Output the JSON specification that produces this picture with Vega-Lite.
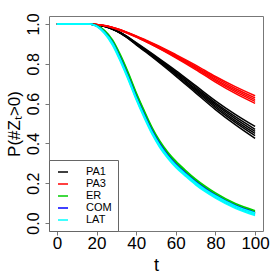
{
"$schema": "https://vega.github.io/schema/vega-lite/v6.json",
"width": 214, "height": 215,
"autosize": {"type": "none"},
"padding": {"left": 49, "top": 16, "right": 17, "bottom": 49},
"background": "white",
"config": {"view": {"stroke": "#777", "strokeWidth": 1}, "font": "Liberation Sans"},
"data": {"values": [
{"g":"PA1","r":"b1","t":0,"p":1},{"g":"PA1","r":"b1","t":16,"p":1},{"g":"PA1","r":"b1","t":20,"p":0.996},{"g":"PA1","r":"b1","t":25,"p":0.985},{"g":"PA1","r":"b1","t":30,"p":0.964},{"g":"PA1","r":"b1","t":35,"p":0.934},{"g":"PA1","r":"b1","t":40,"p":0.895},{"g":"PA1","r":"b1","t":45,"p":0.858},{"g":"PA1","r":"b1","t":50,"p":0.819},{"g":"PA1","r":"b1","t":60,"p":0.738},{"g":"PA1","r":"b1","t":70,"p":0.654},{"g":"PA1","r":"b1","t":80,"p":0.57},{"g":"PA1","r":"b1","t":90,"p":0.494},{"g":"PA1","r":"b1","t":100,"p":0.425},
{"g":"PA1","r":"b2","t":0,"p":1},{"g":"PA1","r":"b2","t":16,"p":1},{"g":"PA1","r":"b2","t":20,"p":0.996},{"g":"PA1","r":"b2","t":25,"p":0.986},{"g":"PA1","r":"b2","t":30,"p":0.965},{"g":"PA1","r":"b2","t":35,"p":0.935},{"g":"PA1","r":"b2","t":40,"p":0.897},{"g":"PA1","r":"b2","t":45,"p":0.861},{"g":"PA1","r":"b2","t":50,"p":0.823},{"g":"PA1","r":"b2","t":60,"p":0.745},{"g":"PA1","r":"b2","t":70,"p":0.662},{"g":"PA1","r":"b2","t":80,"p":0.58},{"g":"PA1","r":"b2","t":90,"p":0.506},{"g":"PA1","r":"b2","t":100,"p":0.439},
{"g":"PA1","r":"b3","t":0,"p":1},{"g":"PA1","r":"b3","t":16,"p":1},{"g":"PA1","r":"b3","t":20,"p":0.996},{"g":"PA1","r":"b3","t":25,"p":0.986},{"g":"PA1","r":"b3","t":30,"p":0.966},{"g":"PA1","r":"b3","t":35,"p":0.936},{"g":"PA1","r":"b3","t":40,"p":0.899},{"g":"PA1","r":"b3","t":45,"p":0.864},{"g":"PA1","r":"b3","t":50,"p":0.826},{"g":"PA1","r":"b3","t":60,"p":0.754},{"g":"PA1","r":"b3","t":70,"p":0.669},{"g":"PA1","r":"b3","t":80,"p":0.588},{"g":"PA1","r":"b3","t":90,"p":0.515},{"g":"PA1","r":"b3","t":100,"p":0.45},
{"g":"PA1","r":"b4","t":0,"p":1},{"g":"PA1","r":"b4","t":16,"p":1},{"g":"PA1","r":"b4","t":20,"p":0.996},{"g":"PA1","r":"b4","t":25,"p":0.986},{"g":"PA1","r":"b4","t":30,"p":0.966},{"g":"PA1","r":"b4","t":35,"p":0.938},{"g":"PA1","r":"b4","t":40,"p":0.901},{"g":"PA1","r":"b4","t":45,"p":0.866},{"g":"PA1","r":"b4","t":50,"p":0.83},{"g":"PA1","r":"b4","t":60,"p":0.75},{"g":"PA1","r":"b4","t":70,"p":0.675},{"g":"PA1","r":"b4","t":80,"p":0.596},{"g":"PA1","r":"b4","t":90,"p":0.525},{"g":"PA1","r":"b4","t":100,"p":0.46},
{"g":"PA1","r":"b5","t":0,"p":1},{"g":"PA1","r":"b5","t":16,"p":1},{"g":"PA1","r":"b5","t":20,"p":0.996},{"g":"PA1","r":"b5","t":25,"p":0.986},{"g":"PA1","r":"b5","t":30,"p":0.967},{"g":"PA1","r":"b5","t":35,"p":0.939},{"g":"PA1","r":"b5","t":40,"p":0.903},{"g":"PA1","r":"b5","t":45,"p":0.869},{"g":"PA1","r":"b5","t":50,"p":0.833},{"g":"PA1","r":"b5","t":60,"p":0.759},{"g":"PA1","r":"b5","t":70,"p":0.682},{"g":"PA1","r":"b5","t":80,"p":0.604},{"g":"PA1","r":"b5","t":90,"p":0.534},{"g":"PA1","r":"b5","t":100,"p":0.471},
{"g":"PA1","r":"b6","t":0,"p":1},{"g":"PA1","r":"b6","t":16,"p":1},{"g":"PA1","r":"b6","t":20,"p":0.996},{"g":"PA1","r":"b6","t":25,"p":0.987},{"g":"PA1","r":"b6","t":30,"p":0.968},{"g":"PA1","r":"b6","t":35,"p":0.94},{"g":"PA1","r":"b6","t":40,"p":0.906},{"g":"PA1","r":"b6","t":45,"p":0.872},{"g":"PA1","r":"b6","t":50,"p":0.837},{"g":"PA1","r":"b6","t":60,"p":0.766},{"g":"PA1","r":"b6","t":70,"p":0.69},{"g":"PA1","r":"b6","t":80,"p":0.614},{"g":"PA1","r":"b6","t":90,"p":0.546},{"g":"PA1","r":"b6","t":100,"p":0.485},
{"g":"PA3","r":"r1","t":0,"p":1},{"g":"PA3","r":"r1","t":16,"p":1},{"g":"PA3","r":"r1","t":20,"p":0.997},{"g":"PA3","r":"r1","t":25,"p":0.99},{"g":"PA3","r":"r1","t":30,"p":0.975},{"g":"PA3","r":"r1","t":35,"p":0.956},{"g":"PA3","r":"r1","t":40,"p":0.934},{"g":"PA3","r":"r1","t":45,"p":0.91},{"g":"PA3","r":"r1","t":50,"p":0.885},{"g":"PA3","r":"r1","t":60,"p":0.83},{"g":"PA3","r":"r1","t":70,"p":0.771},{"g":"PA3","r":"r1","t":80,"p":0.708},{"g":"PA3","r":"r1","t":90,"p":0.651},{"g":"PA3","r":"r1","t":100,"p":0.601},
{"g":"PA3","r":"r2","t":0,"p":1},{"g":"PA3","r":"r2","t":16,"p":1},{"g":"PA3","r":"r2","t":20,"p":0.997},{"g":"PA3","r":"r2","t":25,"p":0.99},{"g":"PA3","r":"r2","t":30,"p":0.975},{"g":"PA3","r":"r2","t":35,"p":0.957},{"g":"PA3","r":"r2","t":40,"p":0.935},{"g":"PA3","r":"r2","t":45,"p":0.912},{"g":"PA3","r":"r2","t":50,"p":0.887},{"g":"PA3","r":"r2","t":60,"p":0.834},{"g":"PA3","r":"r2","t":70,"p":0.777},{"g":"PA3","r":"r2","t":80,"p":0.715},{"g":"PA3","r":"r2","t":90,"p":0.66},{"g":"PA3","r":"r2","t":100,"p":0.611},
{"g":"PA3","r":"r3","t":0,"p":1},{"g":"PA3","r":"r3","t":16,"p":1},{"g":"PA3","r":"r3","t":20,"p":0.997},{"g":"PA3","r":"r3","t":25,"p":0.99},{"g":"PA3","r":"r3","t":30,"p":0.976},{"g":"PA3","r":"r3","t":35,"p":0.958},{"g":"PA3","r":"r3","t":40,"p":0.937},{"g":"PA3","r":"r3","t":45,"p":0.914},{"g":"PA3","r":"r3","t":50,"p":0.89},{"g":"PA3","r":"r3","t":60,"p":0.838},{"g":"PA3","r":"r3","t":70,"p":0.782},{"g":"PA3","r":"r3","t":80,"p":0.722},{"g":"PA3","r":"r3","t":90,"p":0.668},{"g":"PA3","r":"r3","t":100,"p":0.62},
{"g":"PA3","r":"r4","t":0,"p":1},{"g":"PA3","r":"r4","t":16,"p":1},{"g":"PA3","r":"r4","t":20,"p":0.997},{"g":"PA3","r":"r4","t":25,"p":0.99},{"g":"PA3","r":"r4","t":30,"p":0.977},{"g":"PA3","r":"r4","t":35,"p":0.959},{"g":"PA3","r":"r4","t":40,"p":0.939},{"g":"PA3","r":"r4","t":45,"p":0.916},{"g":"PA3","r":"r4","t":50,"p":0.893},{"g":"PA3","r":"r4","t":60,"p":0.842},{"g":"PA3","r":"r4","t":70,"p":0.787},{"g":"PA3","r":"r4","t":80,"p":0.729},{"g":"PA3","r":"r4","t":90,"p":0.676},{"g":"PA3","r":"r4","t":100,"p":0.629},
{"g":"PA3","r":"r5","t":0,"p":1},{"g":"PA3","r":"r5","t":16,"p":1},{"g":"PA3","r":"r5","t":20,"p":0.997},{"g":"PA3","r":"r5","t":25,"p":0.991},{"g":"PA3","r":"r5","t":30,"p":0.977},{"g":"PA3","r":"r5","t":35,"p":0.96},{"g":"PA3","r":"r5","t":40,"p":0.94},{"g":"PA3","r":"r5","t":45,"p":0.918},{"g":"PA3","r":"r5","t":50,"p":0.896},{"g":"PA3","r":"r5","t":60,"p":0.846},{"g":"PA3","r":"r5","t":70,"p":0.793},{"g":"PA3","r":"r5","t":80,"p":0.736},{"g":"PA3","r":"r5","t":90,"p":0.685},{"g":"PA3","r":"r5","t":100,"p":0.639},
{"g":"ER","r":"g1","t":0,"p":1},{"g":"ER","r":"g1","t":16,"p":1},{"g":"ER","r":"g1","t":20,"p":0.992},{"g":"ER","r":"g1","t":24,"p":0.965},{"g":"ER","r":"g1","t":28,"p":0.915},{"g":"ER","r":"g1","t":32,"p":0.84},{"g":"ER","r":"g1","t":36,"p":0.75},{"g":"ER","r":"g1","t":40,"p":0.65},{"g":"ER","r":"g1","t":44,"p":0.56},{"g":"ER","r":"g1","t":48,"p":0.475},{"g":"ER","r":"g1","t":52,"p":0.405},{"g":"ER","r":"g1","t":56,"p":0.35},{"g":"ER","r":"g1","t":60,"p":0.305},{"g":"ER","r":"g1","t":65,"p":0.258},{"g":"ER","r":"g1","t":70,"p":0.215},{"g":"ER","r":"g1","t":75,"p":0.178},{"g":"ER","r":"g1","t":80,"p":0.145},{"g":"ER","r":"g1","t":90,"p":0.092},{"g":"ER","r":"g1","t":100,"p":0.056},
{"g":"ER","r":"g2","t":0,"p":1},{"g":"ER","r":"g2","t":16,"p":1},{"g":"ER","r":"g2","t":20,"p":0.993},{"g":"ER","r":"g2","t":24,"p":0.968},{"g":"ER","r":"g2","t":28,"p":0.921},{"g":"ER","r":"g2","t":32,"p":0.846},{"g":"ER","r":"g2","t":36,"p":0.756},{"g":"ER","r":"g2","t":40,"p":0.656},{"g":"ER","r":"g2","t":44,"p":0.566},{"g":"ER","r":"g2","t":48,"p":0.481},{"g":"ER","r":"g2","t":52,"p":0.411},{"g":"ER","r":"g2","t":56,"p":0.356},{"g":"ER","r":"g2","t":60,"p":0.311},{"g":"ER","r":"g2","t":65,"p":0.264},{"g":"ER","r":"g2","t":70,"p":0.221},{"g":"ER","r":"g2","t":75,"p":0.184},{"g":"ER","r":"g2","t":80,"p":0.151},{"g":"ER","r":"g2","t":90,"p":0.098},{"g":"ER","r":"g2","t":100,"p":0.062},
{"g":"ER","r":"g3","t":0,"p":1},{"g":"ER","r":"g3","t":16,"p":1},{"g":"ER","r":"g3","t":20,"p":0.991},{"g":"ER","r":"g3","t":24,"p":0.962},{"g":"ER","r":"g3","t":28,"p":0.909},{"g":"ER","r":"g3","t":32,"p":0.834},{"g":"ER","r":"g3","t":36,"p":0.744},{"g":"ER","r":"g3","t":40,"p":0.644},{"g":"ER","r":"g3","t":44,"p":0.554},{"g":"ER","r":"g3","t":48,"p":0.469},{"g":"ER","r":"g3","t":52,"p":0.399},{"g":"ER","r":"g3","t":56,"p":0.344},{"g":"ER","r":"g3","t":60,"p":0.299},{"g":"ER","r":"g3","t":65,"p":0.252},{"g":"ER","r":"g3","t":70,"p":0.209},{"g":"ER","r":"g3","t":75,"p":0.172},{"g":"ER","r":"g3","t":80,"p":0.139},{"g":"ER","r":"g3","t":90,"p":0.086},{"g":"ER","r":"g3","t":100,"p":0.05},
{"g":"COM","r":"c1","t":0,"p":1},{"g":"COM","r":"c1","t":16,"p":1},{"g":"COM","r":"c1","t":20,"p":0.991},{"g":"COM","r":"c1","t":24,"p":0.96},{"g":"COM","r":"c1","t":28,"p":0.909},{"g":"COM","r":"c1","t":32,"p":0.829},{"g":"COM","r":"c1","t":36,"p":0.736},{"g":"COM","r":"c1","t":40,"p":0.636},{"g":"COM","r":"c1","t":44,"p":0.547},{"g":"COM","r":"c1","t":48,"p":0.464},{"g":"COM","r":"c1","t":52,"p":0.396},{"g":"COM","r":"c1","t":56,"p":0.341},{"g":"COM","r":"c1","t":60,"p":0.296},{"g":"COM","r":"c1","t":65,"p":0.25},{"g":"COM","r":"c1","t":70,"p":0.208},{"g":"COM","r":"c1","t":75,"p":0.172},{"g":"COM","r":"c1","t":80,"p":0.14},{"g":"COM","r":"c1","t":90,"p":0.088},{"g":"COM","r":"c1","t":100,"p":0.052},
{"g":"COM","r":"c2","t":0,"p":1},{"g":"COM","r":"c2","t":16,"p":1},{"g":"COM","r":"c2","t":20,"p":0.989},{"g":"COM","r":"c2","t":24,"p":0.956},{"g":"COM","r":"c2","t":28,"p":0.901},{"g":"COM","r":"c2","t":32,"p":0.821},{"g":"COM","r":"c2","t":36,"p":0.728},{"g":"COM","r":"c2","t":40,"p":0.628},{"g":"COM","r":"c2","t":44,"p":0.539},{"g":"COM","r":"c2","t":48,"p":0.456},{"g":"COM","r":"c2","t":52,"p":0.388},{"g":"COM","r":"c2","t":56,"p":0.333},{"g":"COM","r":"c2","t":60,"p":0.288},{"g":"COM","r":"c2","t":65,"p":0.242},{"g":"COM","r":"c2","t":70,"p":0.2},{"g":"COM","r":"c2","t":75,"p":0.164},{"g":"COM","r":"c2","t":80,"p":0.132},{"g":"COM","r":"c2","t":90,"p":0.08},{"g":"COM","r":"c2","t":100,"p":0.044},
{"g":"LAT","r":"l1","t":0,"p":1},{"g":"LAT","r":"l1","t":16,"p":1},{"g":"LAT","r":"l1","t":20,"p":0.99},{"g":"LAT","r":"l1","t":24,"p":0.958},{"g":"LAT","r":"l1","t":28,"p":0.906},{"g":"LAT","r":"l1","t":32,"p":0.824},{"g":"LAT","r":"l1","t":36,"p":0.731},{"g":"LAT","r":"l1","t":40,"p":0.631},{"g":"LAT","r":"l1","t":44,"p":0.541},{"g":"LAT","r":"l1","t":48,"p":0.458},{"g":"LAT","r":"l1","t":52,"p":0.39},{"g":"LAT","r":"l1","t":56,"p":0.336},{"g":"LAT","r":"l1","t":60,"p":0.291},{"g":"LAT","r":"l1","t":65,"p":0.246},{"g":"LAT","r":"l1","t":70,"p":0.204},{"g":"LAT","r":"l1","t":75,"p":0.168},{"g":"LAT","r":"l1","t":80,"p":0.137},{"g":"LAT","r":"l1","t":90,"p":0.086},{"g":"LAT","r":"l1","t":100,"p":0.05},
{"g":"LAT","r":"l2","t":0,"p":1},{"g":"LAT","r":"l2","t":16,"p":1},{"g":"LAT","r":"l2","t":20,"p":0.989},{"g":"LAT","r":"l2","t":24,"p":0.955},{"g":"LAT","r":"l2","t":28,"p":0.9},{"g":"LAT","r":"l2","t":32,"p":0.818},{"g":"LAT","r":"l2","t":36,"p":0.725},{"g":"LAT","r":"l2","t":40,"p":0.625},{"g":"LAT","r":"l2","t":44,"p":0.535},{"g":"LAT","r":"l2","t":48,"p":0.452},{"g":"LAT","r":"l2","t":52,"p":0.384},{"g":"LAT","r":"l2","t":56,"p":0.33},{"g":"LAT","r":"l2","t":60,"p":0.285},{"g":"LAT","r":"l2","t":65,"p":0.24},{"g":"LAT","r":"l2","t":70,"p":0.198},{"g":"LAT","r":"l2","t":75,"p":0.162},{"g":"LAT","r":"l2","t":80,"p":0.131},{"g":"LAT","r":"l2","t":90,"p":0.08},{"g":"LAT","r":"l2","t":100,"p":0.044},
{"g":"LAT","r":"l3","t":0,"p":1},{"g":"LAT","r":"l3","t":16,"p":1},{"g":"LAT","r":"l3","t":20,"p":0.988},{"g":"LAT","r":"l3","t":24,"p":0.952},{"g":"LAT","r":"l3","t":28,"p":0.894},{"g":"LAT","r":"l3","t":32,"p":0.812},{"g":"LAT","r":"l3","t":36,"p":0.719},{"g":"LAT","r":"l3","t":40,"p":0.619},{"g":"LAT","r":"l3","t":44,"p":0.529},{"g":"LAT","r":"l3","t":48,"p":0.446},{"g":"LAT","r":"l3","t":52,"p":0.378},{"g":"LAT","r":"l3","t":56,"p":0.324},{"g":"LAT","r":"l3","t":60,"p":0.279},{"g":"LAT","r":"l3","t":65,"p":0.234},{"g":"LAT","r":"l3","t":70,"p":0.192},{"g":"LAT","r":"l3","t":75,"p":0.156},{"g":"LAT","r":"l3","t":80,"p":0.125},{"g":"LAT","r":"l3","t":90,"p":0.074},{"g":"LAT","r":"l3","t":100,"p":0.038}
]},
"mark": {"type": "line", "interpolate": "monotone", "strokeWidth": 1.5},
"encoding": {
  "x": {"field": "t", "type": "quantitative",
        "scale": {"domain": [-4, 104], "nice": false, "zero": false},
        "axis": {"values": [0, 20, 40, 60, 80, 100], "format": "d", "title": "t", "grid": false, "domain": false,
                 "tickColor": "#777", "tickSize": 4, "labelFontSize": 17, "labelColor": "black", "labelPadding": 0,
                 "titleFontSize": 18, "titleFontWeight": "normal", "titleColor": "black", "titlePadding": 5}},
  "y": {"field": "p", "type": "quantitative",
        "scale": {"domain": [-0.04, 1.04], "nice": false, "zero": false},
        "axis": {"values": [0, 0.2, 0.4, 0.6, 0.8, 1.0], "format": ".1f", "title": "P(#Zₜ>0)", "grid": false, "domain": false,
                 "tickColor": "#777", "tickSize": 4, "labelFontSize": 16, "labelColor": "black", "labelAngle": -90, "labelPadding": 4,
                 "titleFontSize": 17, "titleFontWeight": "normal", "titleColor": "black", "titlePadding": 2}},
  "color": {"field": "g", "type": "nominal",
            "scale": {"domain": ["PA1", "PA3", "ER", "COM", "LAT"], "range": ["#000000", "#FF0000", "#00CD00", "#0000FF", "#00FFFF"]},
            "legend": {"title": null, "orient": "none", "legendX": 0, "legendY": 144, "strokeColor": "#666", "fillColor": "white",
                       "padding": 6, "symbolOffset": 2, "symbolType": "stroke", "symbolSize": 100, "symbolStrokeWidth": 1.5,
                       "labelFontSize": 11, "labelColor": "black", "labelOffset": 17, "rowPadding": 1}},
  "detail": {"field": "r"}
}
}
